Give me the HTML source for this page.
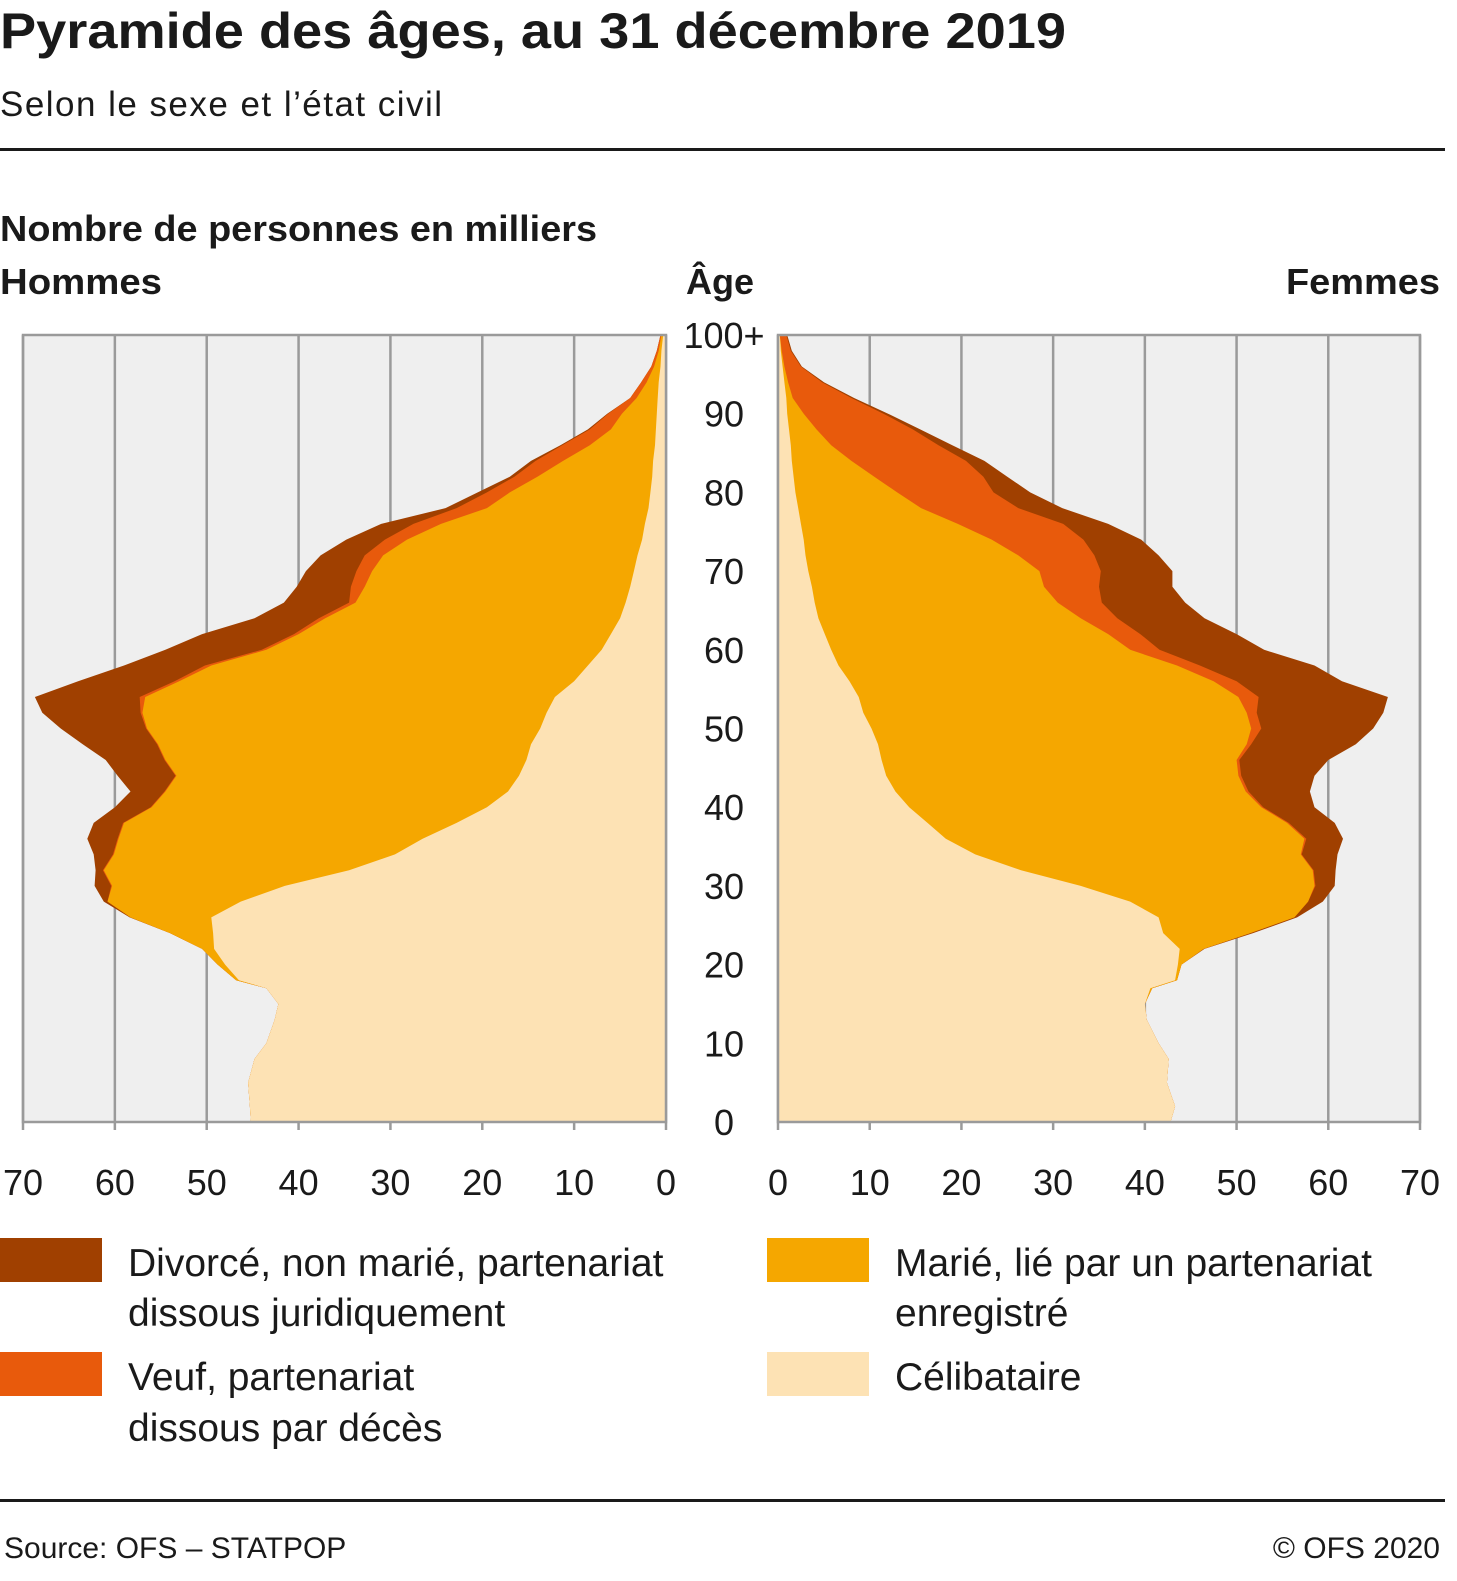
<!DOCTYPE html>
<html><head><meta charset="utf-8"><style>
html,body{margin:0;padding:0;background:#fff;}
svg{display:block;font-family:"Liberation Sans",sans-serif;}
</style></head><body>
<svg id="chart" width="1457" height="1581" viewBox="0 0 1457 1581">
<text x="0" y="48" font-size="50" font-weight="bold" fill="#1a1a1a" textLength="1066" lengthAdjust="spacingAndGlyphs">Pyramide des âges, au 31 décembre 2019</text>
<text x="0" y="116" font-size="35" fill="#1a1a1a" textLength="442">Selon le sexe et l’état civil</text>
<rect x="0" y="148" width="1445" height="3" fill="#1a1a1a"/>
<text x="0" y="241" font-size="36" font-weight="bold" fill="#1a1a1a" textLength="597" lengthAdjust="spacingAndGlyphs">Nombre de personnes en milliers</text>
<text x="0" y="294" font-size="36" font-weight="bold" fill="#1a1a1a" textLength="162" lengthAdjust="spacingAndGlyphs">Hommes</text>
<text x="720" y="294" font-size="36" font-weight="bold" fill="#1a1a1a" text-anchor="middle">Âge</text>
<text x="1440" y="294" font-size="36" font-weight="bold" fill="#1a1a1a" text-anchor="end" textLength="154" lengthAdjust="spacingAndGlyphs">Femmes</text>
<g id="plots"></g>
<g>
<rect x="0" y="1238" width="102" height="44" fill="#a04000"/>
<text x="128" y="1276" font-size="39" fill="#1a1a1a">Divorcé, non marié, partenariat</text>
<text x="128" y="1326" font-size="39" fill="#1a1a1a">dissous juridiquement</text>
<rect x="0" y="1352" width="102" height="44" fill="#e85a0c"/>
<text x="128" y="1390" font-size="39" fill="#1a1a1a">Veuf, partenariat</text>
<text x="128" y="1441" font-size="39" fill="#1a1a1a">dissous par décès</text>
<rect x="767" y="1238" width="102" height="44" fill="#f5a700"/>
<text x="895" y="1276" font-size="39" fill="#1a1a1a">Marié, lié par un partenariat</text>
<text x="895" y="1326" font-size="39" fill="#1a1a1a">enregistré</text>
<rect x="767" y="1352" width="102" height="44" fill="#fde2b4"/>
<text x="895" y="1390" font-size="39" fill="#1a1a1a">Célibataire</text>
</g>
<rect x="0" y="1499" width="1445" height="3" fill="#1a1a1a"/>
<text x="4" y="1558" font-size="30" fill="#1a1a1a">Source: OFS – STATPOP</text>
<text x="1440" y="1558" font-size="30" fill="#1a1a1a" text-anchor="end">© OFS 2020</text>
</svg>
<script>
const ages = [0,2,5,8,10,13,15,17,18,20,22,24,26,28,30,32,34,36,38,40,42,44,46,48,50,52,54,56,58,60,62,64,66,68,70,72,74,76,78,80,82,84,86,88,90,92,94,96,98,100];
// cumulative stacks, thousands
const menSingle = [45.2,45.3,45.5,44.8,43.5,42.6,42.2,43.5,46.5,48,49.2,49.3,49.5,46.3,41.5,34.5,29.5,26.5,22.8,19.5,17.2,16,15.2,14.7,13.7,13,12.1,10,8.5,7,6,5,4.4,3.9,3.5,3.1,2.6,2.3,1.9,1.7,1.5,1.4,1.2,1.1,1.0,0.9,0.8,0.6,0.5,0.3];
const menCumMarried = [45.2,45.3,45.5,44.8,43.5,42.6,42.2,43.5,46.8,48.8,50.5,54.0,58.3,60.8,60.3,61.2,60.1,59.6,59,56,54.5,53.3,54.5,55.3,56.5,57,56.7,53,49.5,43.5,40,37.1,33.8,32.8,32,30.8,28.2,24.5,19.5,17,14,11.2,8.3,6,4.8,3.2,2.1,1.3,0.8,0.5];
const menCumWidowed = [45.2,45.3,45.5,44.8,43.5,42.6,42.2,43.5,46.8,48.8,50.5,54.0,58.3,60.8,60.4,61.3,60.2,59.7,59.1,56.1,54.6,53.4,54.6,55.4,56.6,57.2,57.3,53.5,50.2,44,40.5,37.8,34.5,34.3,33.7,32.8,30.6,27.5,22.8,19.5,16.5,14.2,11.3,8.3,6.3,3.9,2.7,1.6,1.0,0.6];
const menTotal = [45.2,45.3,45.5,44.8,43.5,42.6,42.2,43.5,46.8,48.8,50.5,54.0,58.4,61.2,62.2,62.1,62.3,63,62.3,60,58.3,59.7,61,63.5,65.9,67.9,68.7,64,59,54.5,50.5,44.8,41.6,40.2,39.2,37.6,34.8,31,24,20.5,17,14.7,11.5,8.5,6.4,3.9,2.7,1.6,1.0,0.6];
const womenSingle = [42.8,43.3,42.4,42.6,41.5,40.2,40,40.6,43.3,43.6,43.8,42,41.5,38.4,33,26.5,21.5,18.3,16.3,14.3,12.8,11.8,11.3,10.9,10.2,9.3,8.8,7.8,6.6,5.8,5.1,4.4,4,3.7,3.3,3,2.8,2.5,2.2,1.9,1.7,1.5,1.4,1.2,1.0,0.9,0.7,0.5,0.3,0.2];
const womenCumMarried = [42.8,43.3,42.4,42.6,41.5,40.2,40,40.8,43.5,44,46.4,51.5,56.3,57.8,58.5,58.3,57,57.4,55.5,52.7,51,50.2,50,51.1,51.6,51.1,50.2,47.5,43.5,38.4,36,33,30.5,29,28.5,26.2,23.3,19.6,15.6,13,10.5,8,5.8,4.2,2.8,1.6,1.1,0.7,0.4,0.2];
const womenCumWidowed = [42.8,43.3,42.4,42.6,41.5,40.2,40,40.8,43.5,44,46.4,51.5,56.3,57.8,58.6,58.4,57.1,57.6,55.7,52.9,51.3,50.5,50.3,51.6,52.7,52.2,52.4,50,46,41.6,39.5,37,35.3,35,35.2,34.5,33.3,31.1,26.2,23.5,22.4,20.5,17.5,14.7,11.5,8,4.8,2.5,1.4,0.9];
const womenTotal = [42.8,43.3,42.4,42.6,41.5,40.2,40,40.8,43.5,44,46.5,51.8,56.6,59.4,60.7,60.8,61,61.6,60.7,58.5,58,58.5,60,63,64.9,66,66.5,61.5,58.5,53,50,46.5,44.4,43,43,41.5,39.6,36,31,27.5,25,22.5,19,15.5,12,8.3,5,2.6,1.5,1.0];
const xTicks = [0,10,20,30,40,50,60,70];
const ageTicks = [0,10,20,30,40,50,60,70,80,90,100];
const ageTickLabels = ["0","10","20","30","40","50","60","70","80","90","100+"];

const NS = "http://www.w3.org/2000/svg";
const g = document.getElementById('plots');
const yTop = 335, yBot = 1122, maxAge = 100, maxVal = 70;
function yScale(a){ return yBot - (a/maxAge)*(yBot-yTop); }
const panels = [
  {side:'men', x0:666, x1:23, dir:-1, series:[menTotal,menCumWidowed,menCumMarried,menSingle]},
  {side:'women', x0:778, x1:1420, dir:1, series:[womenTotal,womenCumWidowed,womenCumMarried,womenSingle]}
];
const colors = ['#a04000','#e85a0c','#f5a700','#fde2b4'];
const names = ['divorced','widowed','married','single'];
function mk(tag, attrs){ const e=document.createElementNS(NS,tag); for(const k in attrs) e.setAttribute(k,attrs[k]); return e; }
panels.forEach(p=>{
  const xs = v => p.x0 + p.dir*(v/maxVal)*Math.abs(p.x1-p.x0);
  const left = Math.min(p.x0,p.x1), w = Math.abs(p.x1-p.x0);
  const bg = mk('rect',{x:left,y:yTop,width:w,height:yBot-yTop,fill:'#efefef'});
  
  
  g.appendChild(bg);
  xTicks.forEach(t=>{
    const x = xs(t);
    const ln = mk('line',{x1:x,y1:yTop,x2:x,y2:yBot+8,stroke:'#9a9a9a','stroke-width':2.5});
    
    
    g.appendChild(ln);
    const tx = mk('text',{x:x,y:1195,'font-size':36,fill:'#1a1a1a','text-anchor':'middle'});
    tx.textContent = t;
    
    
    g.appendChild(tx);
  });
  p.series.forEach((s,i)=>{
    let d = 'M'+xs(0)+','+yScale(ages[0]);
    for(let k=0;k<ages.length;k++) d += ' L'+xs(s[k]).toFixed(1)+','+yScale(ages[k]).toFixed(1);
    d += ' L'+xs(0)+','+yScale(ages[ages.length-1])+' Z';
    const path = mk('path',{d:d,fill:colors[i]});
    
    
    g.appendChild(path);
  });
  const fr = mk('rect',{x:left,y:yTop,width:w,height:yBot-yTop,fill:'none',stroke:'#9a9a9a','stroke-width':2.5});
  
  
  g.appendChild(fr);
});
ageTicks.forEach((a,i)=>{
  const tx = mk('text',{x:724,y:yScale(a)+13,'font-size':36,fill:'#1a1a1a','text-anchor':'middle'});
  tx.textContent = ageTickLabels[i];
  
  
  g.appendChild(tx);
});
</script>
</body></html>
